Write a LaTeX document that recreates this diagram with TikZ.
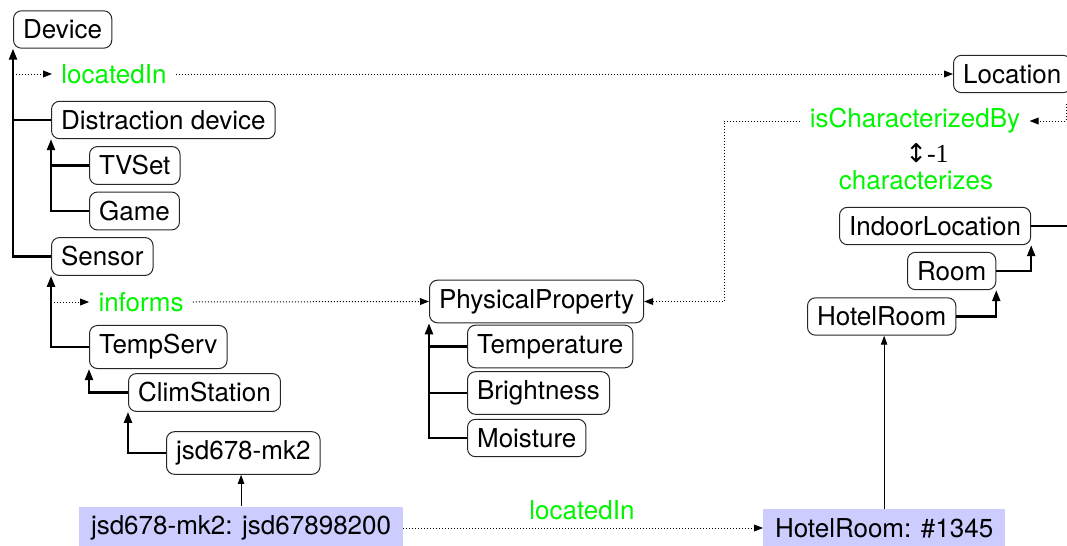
\documentclass[tikz,border=0pt]{standalone}
\usepackage{fontspec}
\setmainfont{TeX Gyre Heros}
\newfontfamily\timesfont{Liberation Serif}
\newfontfamily\arrowfont{DejaVu Sans}
\usepackage{tikz}
\usetikzlibrary{arrows.meta}
\usetikzlibrary{positioning}
\definecolor{relgreen}{RGB}{0,245,0}
\definecolor{instblue}{RGB}{204,204,255}
\tikzset{
    class/.style={draw=black!85, line width=0.5pt, rounded corners=4pt,
        inner xsep=4.8pt, inner ysep=4.5pt, anchor=west},
    instance/.style={fill=instblue, inner xsep=5.8pt, inner ysep=4.5pt, anchor=west},
    relation/.style={text=relgreen, inner xsep=4.5pt, inner ysep=2pt},
    isa/.style={draw=black, line width=1.1pt, -{Triangle[length=5.5pt,width=4pt]}},
    branch/.style={draw=black, line width=1.1pt},
    prop/.style={draw=black, line width=0.5pt, densely dotted,
        -{Triangle[length=4.5pt,width=3.4pt]}},
    propnoarrow/.style={draw=black, line width=0.5pt, densely dotted},
    typeof/.style={draw=black, line width=0.5pt, -{Triangle[length=4.5pt,width=3.2pt]}},
}

\begin{document}
\begin{tikzpicture}[x=0.5pt, y=-0.5pt, font=\fontsize{13}{15}\selectfont]
	\useasboundingbox (0,0) rectangle (1067,546);
	\clip (0,0) rectangle (1067,546);
	% classes
	\node[class] (device) at (13,29.5) {Device};
	\node[class] (location) at (953,74) {Location};
	\node[class] (distraction) at (51,120) {Distraction device};
	\node[class] (tvset) at (89,165.5) {TVSet};
	\node[class] (game) at (89,211) {Game};
	\node[class] (sensor) at (51,256.5) {Sensor};
	\node[class] (tempserv) at (89,347) {TempServ};
	\node[class] (climstation) at (128,392.5) {ClimStation};
	\node[class] (mkdevice) at (166,453) {jsd678-mk2};
	\node[class] (physprop) at (429,301.5) {PhysicalProperty};
	\node[class] (temperature) at (467,346.5) {Temperature};
	\node[class] (brightness) at (467,393) {Brightness};
	\node[class] (moisture) at (467,438) {Moisture};
	\node[class] (indoor) at (839,226) {IndoorLocation};
	\node[class] (room) at (907,271) {Room};
	\node[class] (hotelroom) at (807,316.5) {HotelRoom};
	%
	\node[instance] (mkinst) at (79,528) {jsd678-mk2: jsd67898200};
	\node[instance] (roominst) at (763,528) {HotelRoom: \#1345};
	%
	\node[relation] (locatedin) at (114,74) {locatedIn};
	\node[relation] (informs) at (141,302) {informs};
	\node[relation] (charby) at (915,121) {isCharacterizedBy};
	\node (inverse) at (927,153) {{\arrowfont ↕}\timesfont -1};
	\node[relation] (characterizes) at (916,180) {characterizes};
	\node[relation] (locatedininst) at (582,510) {locatedIn};
	%
	\coordinate (offright) at (1090,0);
	\coordinate (charsrc) at (1066,104);
	\coordinate (charbend) at (724,301.5);
	% subclass trees
	\draw[isa] (sensor.west) -| (device.south west);
	\draw[branch] (distraction.west) -- (distraction.west -| device.south west);
	\draw[isa] (game.west) -| (distraction.south west);
	\draw[branch] (tvset.west) -- (tvset.west -| distraction.south west);
	\draw[isa] (tempserv.west) -| (sensor.south west);
	\draw[isa] (climstation.west) -| (tempserv.south west);
	\draw[isa] (mkdevice.west) -| (climstation.south west);
	\draw[isa] (moisture.west) -| (physprop.south west);
	\draw[branch] (temperature.west) -- (temperature.west -| physprop.south west);
	\draw[branch] (brightness.west) -- (brightness.west -| physprop.south west);
	\draw[isa] (room.east) -| (indoor.south east);
	\draw[isa] (hotelroom.east) -| (room.south east);
	\draw[branch] (indoor.east) -- (indoor.east -| offright);
	% properties
	\draw[prop] (locatedin.west -| device.south west) -- (locatedin.west);
	\draw[prop] (locatedin.east) -- (location.west);
	\draw[prop] (informs.west -| sensor.south west) -- (informs.west);
	\draw[prop] (informs.east) -- (physprop.west);
	\draw[prop] (charsrc) |- (charby.east);
	\draw[prop] (charby.west) -| (charbend) -- (physprop.east);
	% instances
	\draw[typeof] (mkinst.north) -- (mkinst.north |- mkdevice.south);
	\draw[typeof] (roominst.north) -- (roominst.north |- hotelroom.south);
	\draw[prop] (mkinst.east) -- (roominst.west);
\end{tikzpicture}
\end{document}
